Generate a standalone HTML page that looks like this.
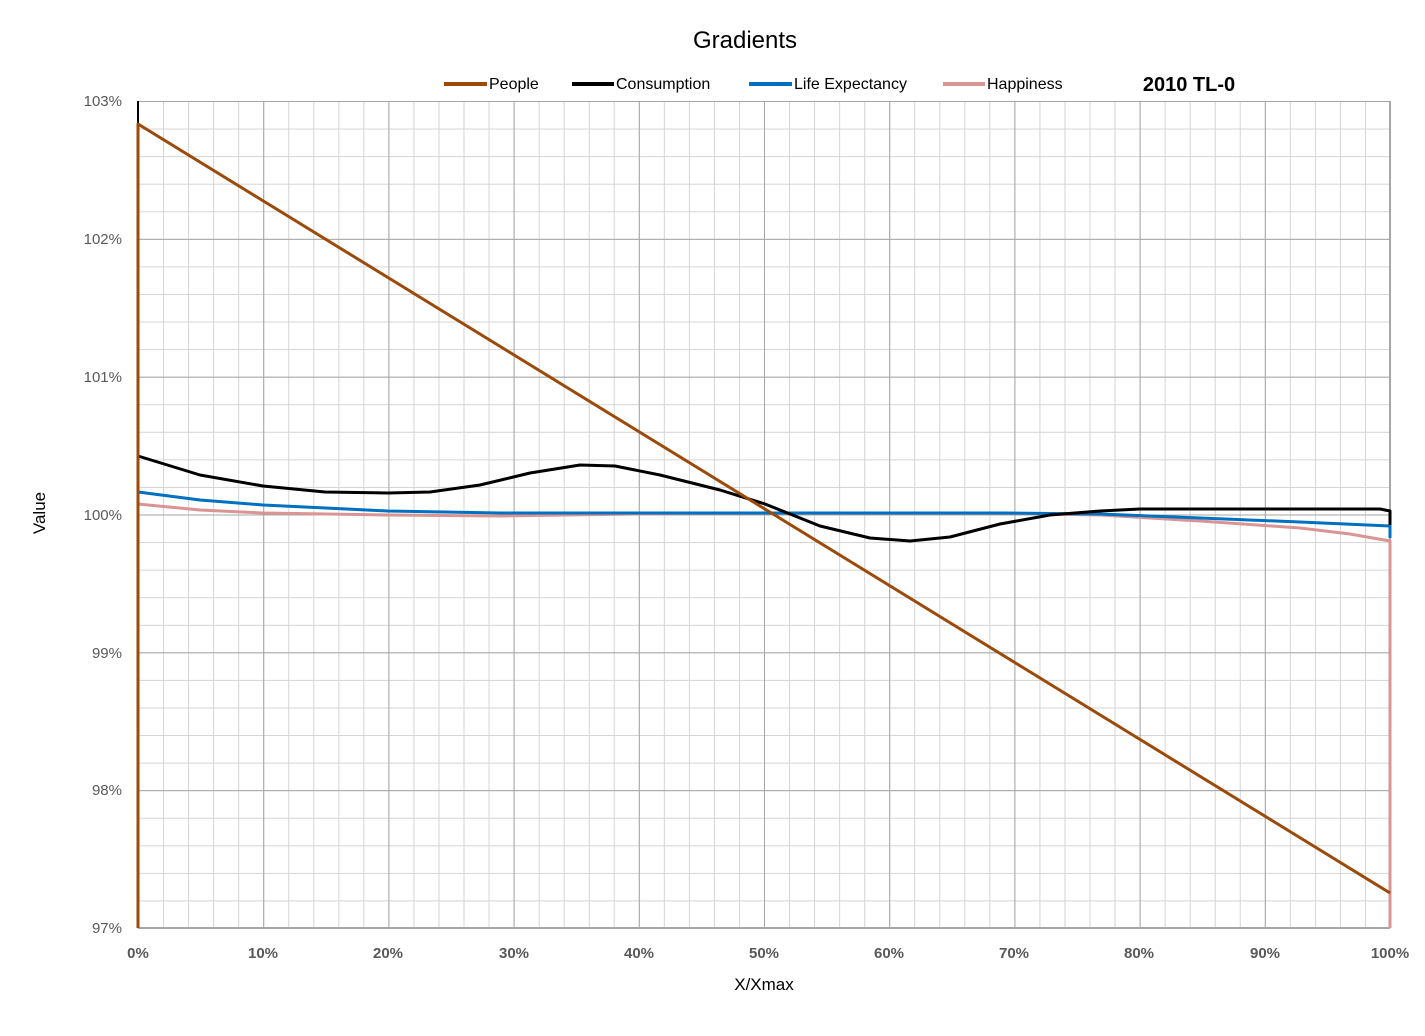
<!DOCTYPE html>
<html><head><meta charset="utf-8"><style>
html,body{margin:0;padding:0;background:#fff;}
svg text{font-family:"Liberation Sans",Calibri,sans-serif;}
</style></head><body>
<svg width="1425" height="1031" viewBox="0 0 1425 1031" xmlns="http://www.w3.org/2000/svg">
<defs>
<pattern id="minor" x="138" y="101" width="25.04" height="27.567" patternUnits="userSpaceOnUse">
<path d="M0 0V27.567M0 0H25.04" stroke="#d4d4d4" stroke-width="2" fill="none"/>
</pattern>
<pattern id="major" x="138" y="101" width="125.2" height="137.83" patternUnits="userSpaceOnUse">
<path d="M0 0V137.83M0 0H125.2" stroke="#a6a6a6" stroke-width="2" fill="none"/>
</pattern>
</defs>
<rect width="1425" height="1031" fill="#fff"/>
<rect x="138" y="101" width="1252" height="827" fill="url(#minor)"/>
<rect x="138" y="101" width="1252" height="827" fill="url(#major)"/>
<line x1="1390" y1="101" x2="1390" y2="928" stroke="#a6a6a6" stroke-width="2"/>
<line x1="138" y1="928" x2="1390" y2="928" stroke="#a6a6a6" stroke-width="2"/>
<line x1="138" y1="101" x2="138" y2="928" stroke="#000" stroke-width="2"/>

<text x="745" y="48" font-size="24" text-anchor="middle" fill="#000">Gradients</text>
<g font-size="16" fill="#000">
<line x1="444" y1="84" x2="487" y2="84" stroke="#9c4a0a" stroke-width="4"/><text x="489" y="89">People</text>
<line x1="572" y1="84" x2="614" y2="84" stroke="#000" stroke-width="4"/><text x="616" y="89">Consumption</text>
<line x1="749" y1="84" x2="792" y2="84" stroke="#0070c0" stroke-width="4"/><text x="794" y="89">Life Expectancy</text>
<line x1="943" y1="84" x2="985" y2="84" stroke="#d99594" stroke-width="4"/><text x="987" y="89">Happiness</text>
</g>
<text x="1189" y="91" font-size="20" font-weight="bold" text-anchor="middle">2010 TL-0</text>

<g font-size="15" fill="#595959" text-anchor="end">
<text x="122" y="106">103%</text><text x="122" y="244">102%</text><text x="122" y="382">101%</text>
<text x="122" y="520">100%</text><text x="122" y="658">99%</text><text x="122" y="795">98%</text><text x="122" y="933">97%</text>
</g>
<g font-size="15" fill="#595959" font-weight="bold" text-anchor="middle">
<text x="138" y="958">0%</text><text x="263" y="958">10%</text><text x="388" y="958">20%</text><text x="514" y="958">30%</text>
<text x="639" y="958">40%</text><text x="764" y="958">50%</text><text x="889" y="958">60%</text><text x="1014" y="958">70%</text>
<text x="1139" y="958">80%</text><text x="1265" y="958">90%</text><text x="1390" y="958">100%</text>
</g>
<text x="764" y="990" font-size="17" text-anchor="middle">X/Xmax</text>
<text transform="translate(45,513) rotate(-90)" font-size="17" text-anchor="middle">Value</text>

<g fill="none" stroke-width="3" stroke-linejoin="round">
<polyline stroke="#d99594" points="138,928 138,504 200,510 263,513 388,515 500,516 700,513 1000,513 1100,515 1200,521 1300,528 1350,534 1390,541 1390,928"/>
<polyline stroke="#0070c0" points="138,500 138,492 200,500 263,505 388,511 500,513 700,513 1000,513 1100,514 1200,518 1300,522 1390,526 1390,538"/>
<polyline stroke="#000" points="138,500 138,456 200,475 263,486 325,492 388,493 430,492 480,485 530,473 580,465 615,466 660,475 720,490 765,504 820,526 870,538 910,541 950,537 1000,524 1050,515 1100,511 1140,509 1380,509 1390,511 1390,525"/>
<polyline stroke="#9c4a0a" points="138,928 138,124 1390,893"/>
</g>
</svg>
</body></html>
